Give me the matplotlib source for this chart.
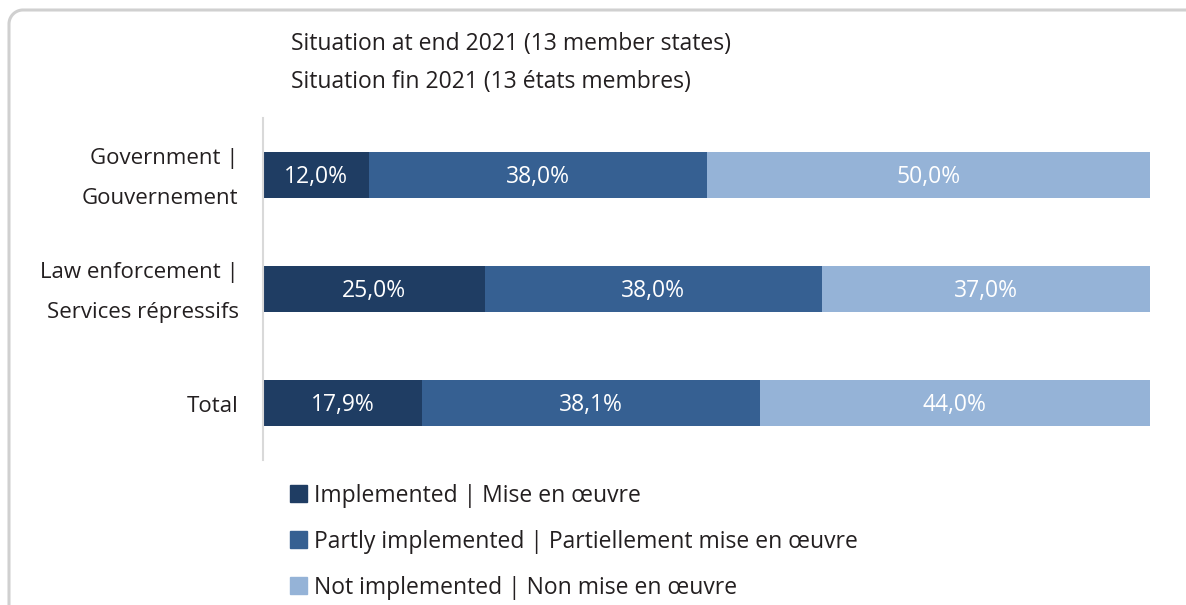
import matplotlib
matplotlib.use('Agg')
import matplotlib.pyplot as plt
import numpy as np
from matplotlib.lines import Line2D
from matplotlib.patches import Rectangle

plt.rcParams['font.family'] = ['Open Sans', 'DejaVu Sans']

categories = ['Government |\nGouvernement', 'Law enforcement |\nServices répressifs', 'Total']
implemented = [12.0, 25.0, 17.9]
partly = [38.0, 38.0, 38.1]
not_impl = [50.0, 37.0, 44.0]
series_names = ['Implemented | Mise en œuvre',
                'Partly implemented | Partiellement mise en œuvre',
                'Not implemented | Non mise en œuvre']
colors = ['#1f3d63', '#366092', '#95b3d7']
title_lines = ['Situation at end 2021 (13 member states)', 'Situation fin 2021 (13 états membres)']

W, H = 1186, 605
fig = plt.figure(figsize=(W / 100, H / 100), dpi=100)

# rounded frame: only left and top edges are inside the picture
r = 14
t = np.linspace(np.pi, 1.5 * np.pi, 20)
fx = np.concatenate([[9], 9 + r + r * np.cos(t), [W]])
fy = np.concatenate([[H], 10 + r + r * np.sin(t), [10]])
fig.add_artist(Line2D(fx / W, 1 - fy / H, transform=fig.transFigure,
                      color='#d0d0d0', linewidth=2.2))

ax = fig.add_axes([263 / W, 1 - 460 / H, (1150 - 263) / W, (460 - 118) / H])
y = range(len(categories))
left = [0] * len(categories)
for vals, col in zip([implemented, partly, not_impl], colors):
    bars = ax.barh(y, vals, left=left, height=0.41, color=col)
    for b, v in zip(bars, vals):
        ax.annotate(f'{v:.1f}%'.replace('.', ','),
                    xy=(b.get_x() + b.get_width() / 2, b.get_y() + b.get_height() / 2),
                    xytext=(0, -1.5), textcoords='offset points',
                    ha='center', va='center', color='white', fontsize=16.5)
    left = [l + v for l, v in zip(left, vals)]

ax.set_xlim(0, 100)
ax.set_ylim(2.5, -0.5)
ax.set_yticks([])
ax.set_xticks([])
# category labels, right aligned left of the axis line
for i, cat in zip(y, categories):
    ax.annotate(cat, xy=(0, i), xycoords=('axes fraction', 'data'),
                xytext=(-17.5, -2.3), textcoords='offset points',
                ha='right', va='center', fontsize=16, color='#231f20',
                linespacing=2.2)
for s in ['top', 'right', 'bottom']:
    ax.spines[s].set_visible(False)
ax.spines['left'].set_color('#d9d9d9')
ax.spines['left'].set_linewidth(1.5)

fig.text(291 / W, 1 - 44 / H, title_lines[0], fontsize=16.5, color='#231f20', va='center')
fig.text(291 / W, 1 - 82 / H, title_lines[1], fontsize=16.5, color='#231f20', va='center')

for i, (name, col) in enumerate(zip(series_names, colors)):
    yc = [494, 540, 586][i]
    fig.patches.append(Rectangle((290 / W, 1 - (yc + 8) / H), 17 / W, 17 / H,
                                 transform=fig.transFigure, color=col))
    fig.text(314 / W, 1 - (yc + 1.5) / H, name, fontsize=16.5, color='#231f20', va='center')

plt.savefig('out.png', dpi=100)
